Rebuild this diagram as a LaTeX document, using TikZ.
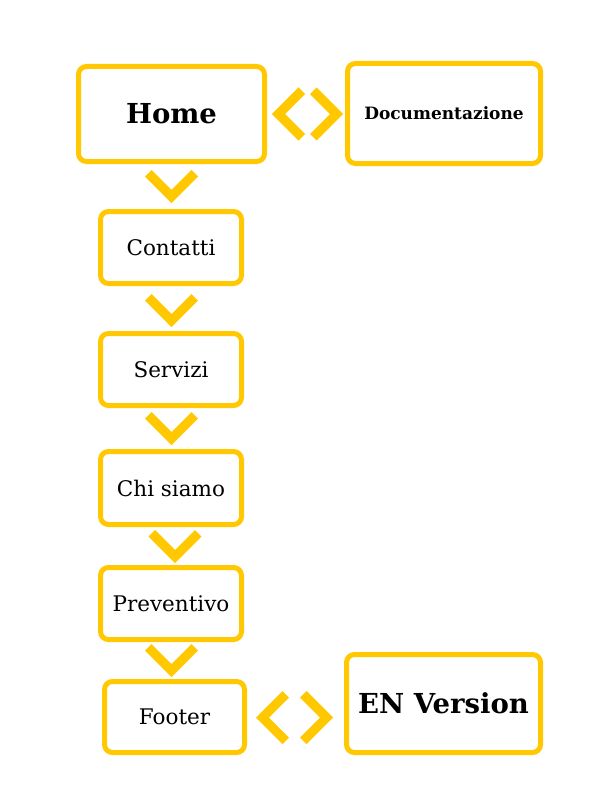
\documentclass[tikz,border=0pt]{standalone}
\usepackage{fontspec}
\setmainfont{DejaVu Serif}
\definecolor{ylw}{HTML}{FFC800}
\tikzset{
  pagebox/.style={draw=ylw, line width=5pt, rounded corners=8pt, fill=white, inner sep=0pt, align=center},
  smallbox/.style={pagebox, minimum width=141pt, minimum height=72pt, font=\fontsize{21.5}{25}\selectfont},
  bigbox/.style={pagebox, minimum width=188pt, minimum height=96pt},
  chevline/.style={draw=ylw, line width=9.2pt, line join=miter, line cap=butt},
  chevdown/.pic={\draw[chevline] (-23.25,-23.25) -- (0,0) -- (23.25,-23.25);},
  chevleft/.pic={\draw[chevline] (23.25,-23.25) -- (0,0) -- (23.25,23.25);},
  chevright/.pic={\draw[chevline] (-23.25,-23.25) -- (0,0) -- (-23.25,23.25);}
}
\begin{document}
\begin{tikzpicture}[x=1pt,y=-1pt]
\useasboundingbox[fill=white] (0,0) rectangle (600,800);
\node[bigbox, minimum width=186pt, minimum height=95pt, font=\bfseries\fontsize{27.5}{32}\selectfont] (home) at (171.5,114) {Home};
\node[bigbox, minimum width=193pt, minimum height=100pt, font=\bfseries\fontsize{17}{20}\selectfont] (doc) at (444,113.5) {Documentazione};
\node[smallbox] (contatti) at (171,247.5) {Contatti};
\node[smallbox] (servizi) at (171,369.5) {Servizi};
\node[smallbox, minimum height=73pt] (chi) at (171,488) {Chi siamo};
\node[smallbox] (prev) at (171,603.5) {Preventivo};
\node[smallbox, minimum width=140pt, minimum height=71pt] (footer) at (174.5,717) {Footer};
\node[bigbox, minimum width=194pt, minimum height=98pt, font=\bfseries\fontsize{27.5}{32}\selectfont] (en) at (443.5,703.5) {EN Version};
% connectors (chevrons)
\coordinate (d1) at (171.5,196.5);
\coordinate (d2) at (171.5,320.5);
\coordinate (d3) at (171.5,438.5);
\coordinate (d4) at (175,556.5);
\coordinate (d5) at (171.5,670.5);
\foreach \c in {d1,d2,d3,d4,d5} \pic at (\c) {chevdown};
\coordinate (l1) at (278.5,114);
\coordinate (r1) at (336.5,114);
\coordinate (l2) at (262.5,717.5);
\coordinate (r2) at (326.5,717.5);
\pic at (l1) {chevleft};
\pic at (r1) {chevright};
\pic at (l2) {chevleft};
\pic at (r2) {chevright};
\end{tikzpicture}
\end{document}
